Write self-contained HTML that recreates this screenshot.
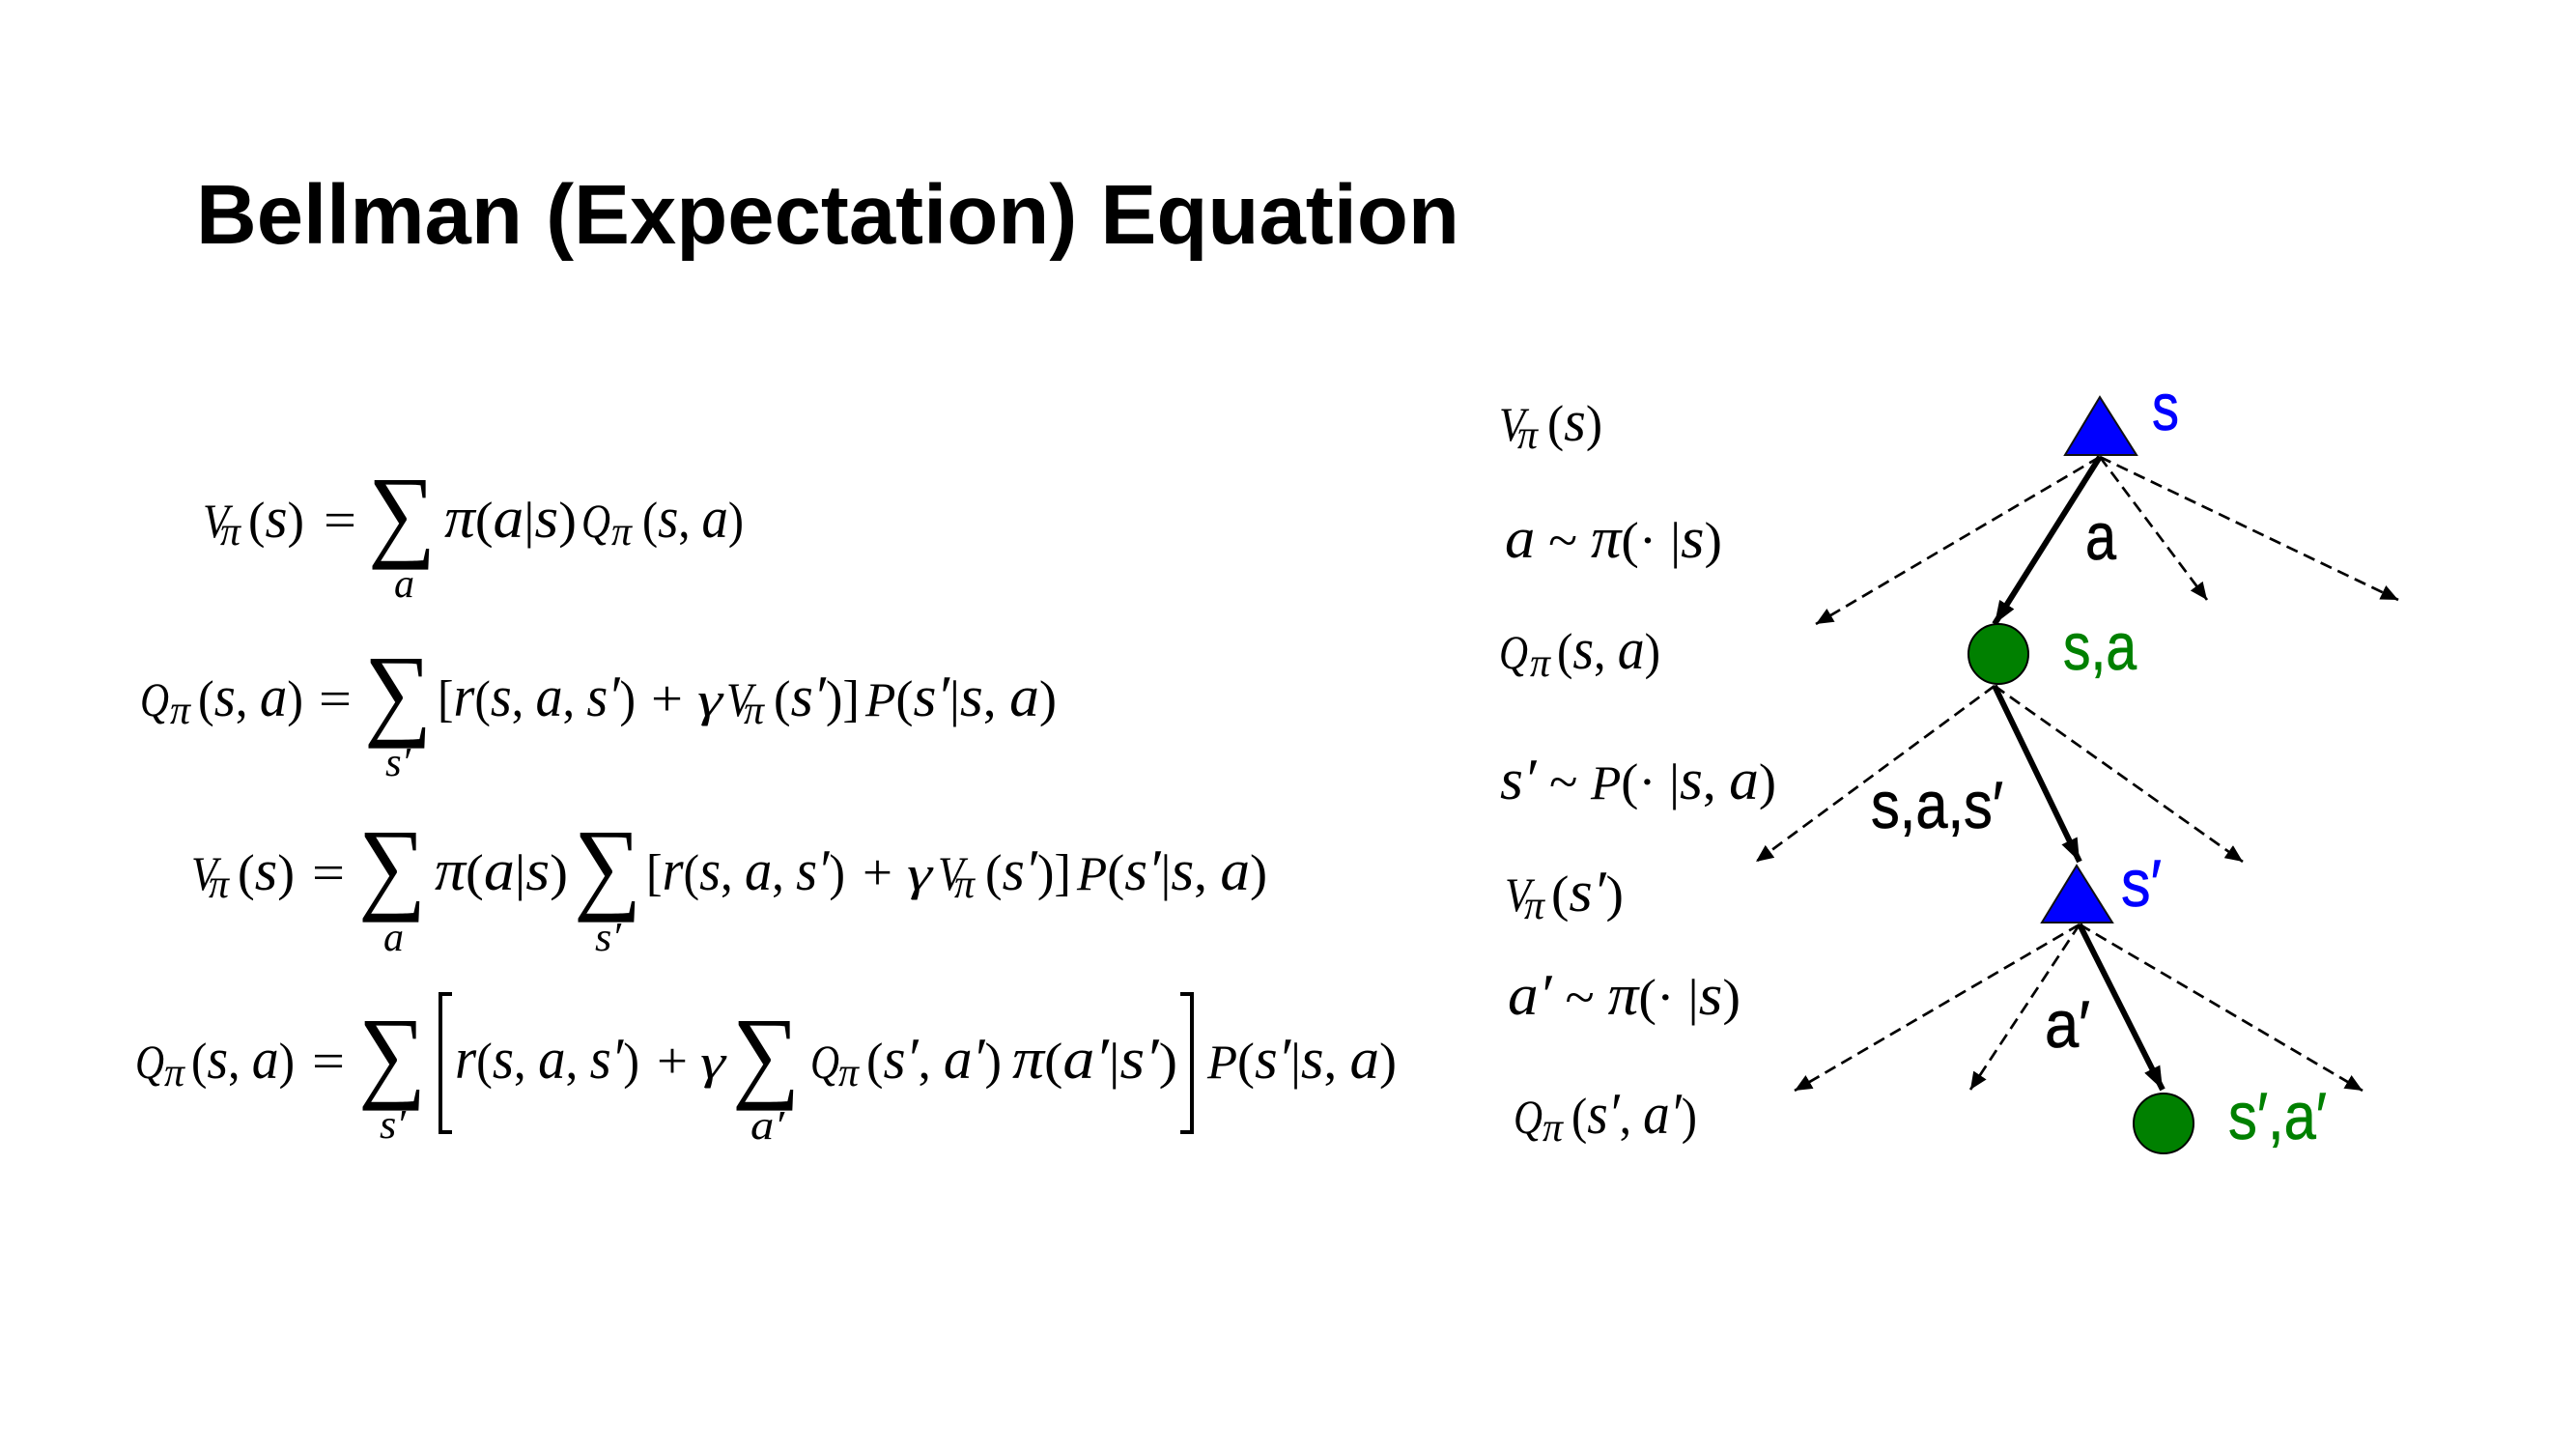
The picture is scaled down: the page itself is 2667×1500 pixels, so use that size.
<!DOCTYPE html>
<html lang="en">
<head>
<meta charset="utf-8">
<title>Bellman (Expectation) Equation</title>
<style>
html,body{margin:0;padding:0;background:#fff;width:2667px;height:1500px;overflow:hidden}
svg{display:block}
text{white-space:pre}
.t{font-family:"Liberation Sans",sans-serif;font-weight:bold;fill:#000}
.m{font-family:"Liberation Serif",serif;font-size:53px;fill:#000}
.m tspan{font-style:italic;font-size:60px}
.m tspan.c{font-size:50px}
.i{font-family:"Liberation Serif",serif;font-size:50px;font-style:italic;fill:#000}
.b{font-family:"Liberation Serif",serif;font-size:42px;font-style:italic;fill:#000}
.sg{font-family:"Liberation Serif",serif;font-size:107px;fill:#000}
.l{font-family:"Liberation Sans",sans-serif;font-size:69px;stroke-width:.7px}
</style>
</head>
<body>
<svg xmlns="http://www.w3.org/2000/svg" width="2667" height="1500" viewBox="0 0 2667 1500">
<defs>
<marker id="hs" markerUnits="userSpaceOnUse" markerWidth="26" markerHeight="20" refX="24" refY="10" orient="auto"><path d="M0 1L24 10L0 19Z" fill="#000"/></marker>
<marker id="hd" markerUnits="userSpaceOnUse" markerWidth="20" markerHeight="16" refX="18" refY="8" orient="auto"><path d="M0 0L18 8L0 16Z" fill="#000"/></marker>
</defs>
<rect width="2667" height="1500" fill="#fff"/>
<text class="t" x="203" y="252" font-size="87" textLength="1308" lengthAdjust="spacingAndGlyphs">Bellman (Expectation) Equation</text>

<g>
<text class="i" x="210" y="556" textLength="27" lengthAdjust="spacingAndGlyphs">V</text>
<text class="b" x="228" y="564" textLength="21" lengthAdjust="spacingAndGlyphs">π</text>
<text class="m" x="257" y="556" textLength="58" lengthAdjust="spacingAndGlyphs">(<tspan>s</tspan>)</text>
<text class="m" x="335" y="556" textLength="34" lengthAdjust="spacingAndGlyphs">=</text>
<text class="sg" x="381" y="567" textLength="70" lengthAdjust="spacingAndGlyphs">∑</text>
<text class="b" x="408" y="618" textLength="21" lengthAdjust="spacingAndGlyphs">a</text>
<text class="m" x="460" y="556" textLength="137" lengthAdjust="spacingAndGlyphs"><tspan>π</tspan>(<tspan>a</tspan>|<tspan>s</tspan>)</text>
<text class="i" x="602" y="556" textLength="30" lengthAdjust="spacingAndGlyphs">Q</text>
<text class="b" x="633" y="564" textLength="21" lengthAdjust="spacingAndGlyphs">π</text>
<text class="m" x="665" y="556" textLength="105" lengthAdjust="spacingAndGlyphs">(<tspan>s</tspan>, <tspan>a</tspan>)</text>
</g>

<g>
<text class="i" x="145" y="741" textLength="30" lengthAdjust="spacingAndGlyphs">Q</text>
<text class="b" x="176" y="749" textLength="21" lengthAdjust="spacingAndGlyphs">π</text>
<text class="m" x="205" y="741" textLength="109" lengthAdjust="spacingAndGlyphs">(<tspan>s</tspan>, <tspan>a</tspan>)</text>
<text class="m" x="330" y="741" textLength="34" lengthAdjust="spacingAndGlyphs">=</text>
<text class="sg" x="377" y="752" textLength="70" lengthAdjust="spacingAndGlyphs">∑</text>
<text class="b" x="399" y="803" textLength="26" lengthAdjust="spacingAndGlyphs">s′</text>
<text class="m" x="453" y="741" textLength="205" lengthAdjust="spacingAndGlyphs">[<tspan>r</tspan>(<tspan>s</tspan>, <tspan>a</tspan>, <tspan>s′</tspan>)</text>
<text class="m" x="674" y="741" textLength="33" lengthAdjust="spacingAndGlyphs">+</text>
<text class="i" x="722" y="741" textLength="26" lengthAdjust="spacingAndGlyphs">γ</text>
<text class="i" x="752" y="741" textLength="27" lengthAdjust="spacingAndGlyphs">V</text>
<text class="b" x="770" y="749" textLength="21" lengthAdjust="spacingAndGlyphs">π</text>
<text class="m" x="801" y="741" textLength="89" lengthAdjust="spacingAndGlyphs">(<tspan>s′</tspan>)]</text>
<text class="m" x="896" y="741" textLength="198" lengthAdjust="spacingAndGlyphs"><tspan class="c">P</tspan>(<tspan>s′</tspan>|<tspan>s</tspan>, <tspan>a</tspan>)</text>
</g>

<g>
<text class="i" x="198" y="921" textLength="27" lengthAdjust="spacingAndGlyphs">V</text>
<text class="b" x="216" y="929" textLength="21" lengthAdjust="spacingAndGlyphs">π</text>
<text class="m" x="246" y="921" textLength="59" lengthAdjust="spacingAndGlyphs">(<tspan>s</tspan>)</text>
<text class="m" x="323" y="921" textLength="34" lengthAdjust="spacingAndGlyphs">=</text>
<text class="sg" x="371" y="932" textLength="70" lengthAdjust="spacingAndGlyphs">∑</text>
<text class="b" x="397" y="984" textLength="21" lengthAdjust="spacingAndGlyphs">a</text>
<text class="m" x="450" y="921" textLength="138" lengthAdjust="spacingAndGlyphs"><tspan>π</tspan>(<tspan>a</tspan>|<tspan>s</tspan>)</text>
<text class="sg" x="594" y="932" textLength="70" lengthAdjust="spacingAndGlyphs">∑</text>
<text class="b" x="616" y="984" textLength="27" lengthAdjust="spacingAndGlyphs">s′</text>
<text class="m" x="669" y="921" textLength="206" lengthAdjust="spacingAndGlyphs">[<tspan>r</tspan>(<tspan>s</tspan>, <tspan>a</tspan>, <tspan>s′</tspan>)</text>
<text class="m" x="893" y="921" textLength="31" lengthAdjust="spacingAndGlyphs">+</text>
<text class="i" x="939" y="921" textLength="26" lengthAdjust="spacingAndGlyphs">γ</text>
<text class="i" x="971" y="921" textLength="27" lengthAdjust="spacingAndGlyphs">V</text>
<text class="b" x="988" y="929" textLength="21" lengthAdjust="spacingAndGlyphs">π</text>
<text class="m" x="1020" y="921" textLength="89" lengthAdjust="spacingAndGlyphs">(<tspan>s′</tspan>)]</text>
<text class="m" x="1115" y="921" textLength="197" lengthAdjust="spacingAndGlyphs"><tspan class="c">P</tspan>(<tspan>s′</tspan>|<tspan>s</tspan>, <tspan>a</tspan>)</text>
</g>

<g>
<text class="i" x="140" y="1116" textLength="30" lengthAdjust="spacingAndGlyphs">Q</text>
<text class="b" x="170" y="1124" textLength="21" lengthAdjust="spacingAndGlyphs">π</text>
<text class="m" x="198" y="1116" textLength="107" lengthAdjust="spacingAndGlyphs">(<tspan>s</tspan>, <tspan>a</tspan>)</text>
<text class="m" x="323" y="1116" textLength="34" lengthAdjust="spacingAndGlyphs">=</text>
<text class="sg" x="371" y="1127" textLength="70" lengthAdjust="spacingAndGlyphs">∑</text>
<text class="b" x="393" y="1178" textLength="27" lengthAdjust="spacingAndGlyphs">s′</text>
<path d="M468 1029H456V1172H468" fill="none" stroke="#000" stroke-width="4"/>
<text class="m" x="471" y="1116" textLength="191" lengthAdjust="spacingAndGlyphs"><tspan>r</tspan>(<tspan>s</tspan>, <tspan>a</tspan>, <tspan>s′</tspan>)</text>
<text class="m" x="680" y="1116" textLength="32" lengthAdjust="spacingAndGlyphs">+</text>
<text class="i" x="725" y="1116" textLength="26" lengthAdjust="spacingAndGlyphs">γ</text>
<text class="sg" x="758" y="1127" textLength="70" lengthAdjust="spacingAndGlyphs">∑</text>
<text class="b" x="777" y="1179" textLength="35" lengthAdjust="spacingAndGlyphs">a′</text>
<text class="i" x="839" y="1116" textLength="30" lengthAdjust="spacingAndGlyphs">Q</text>
<text class="b" x="868" y="1124" textLength="21" lengthAdjust="spacingAndGlyphs">π</text>
<text class="m" x="897" y="1116" textLength="140" lengthAdjust="spacingAndGlyphs">(<tspan>s′</tspan>, <tspan>a′</tspan>)</text>
<text class="m" x="1048" y="1116" textLength="171" lengthAdjust="spacingAndGlyphs"><tspan>π</tspan>(<tspan>a′</tspan>|<tspan>s′</tspan>)</text>
<path d="M1222 1029H1234V1172H1222" fill="none" stroke="#000" stroke-width="4"/>
<text class="m" x="1250" y="1116" textLength="196" lengthAdjust="spacingAndGlyphs"><tspan class="c">P</tspan>(<tspan>s′</tspan>|<tspan>s</tspan>, <tspan>a</tspan>)</text>
</g>

<g>
<text class="i" x="1552" y="456" textLength="27" lengthAdjust="spacingAndGlyphs">V</text>
<text class="b" x="1571" y="464" textLength="21" lengthAdjust="spacingAndGlyphs">π</text>
<text class="m" x="1602" y="456" textLength="57" lengthAdjust="spacingAndGlyphs">(<tspan>s</tspan>)</text>
<text class="m" x="1558" y="577" textLength="225" lengthAdjust="spacingAndGlyphs"><tspan>a</tspan> ~ <tspan>π</tspan>(· |<tspan>s</tspan>)</text>
<text class="i" x="1552" y="692" textLength="30" lengthAdjust="spacingAndGlyphs">Q</text>
<text class="b" x="1584" y="700" textLength="21" lengthAdjust="spacingAndGlyphs">π</text>
<text class="m" x="1612" y="692" textLength="107" lengthAdjust="spacingAndGlyphs">(<tspan>s</tspan>, <tspan>a</tspan>)</text>
<text class="m" x="1553" y="827" textLength="286" lengthAdjust="spacingAndGlyphs"><tspan>s′</tspan> ~ <tspan class="c">P</tspan>(· |<tspan>s</tspan>, <tspan>a</tspan>)</text>
<text class="i" x="1558" y="943" textLength="27" lengthAdjust="spacingAndGlyphs">V</text>
<text class="b" x="1578" y="951" textLength="21" lengthAdjust="spacingAndGlyphs">π</text>
<text class="m" x="1606" y="943" textLength="75" lengthAdjust="spacingAndGlyphs">(<tspan>s′</tspan>)</text>
<text class="m" x="1561" y="1050" textLength="241" lengthAdjust="spacingAndGlyphs"><tspan>a′</tspan> ~ <tspan>π</tspan>(· |<tspan>s</tspan>)</text>
<text class="i" x="1567" y="1173" textLength="30" lengthAdjust="spacingAndGlyphs">Q</text>
<text class="b" x="1597" y="1181" textLength="21" lengthAdjust="spacingAndGlyphs">π</text>
<text class="m" x="1627" y="1173" textLength="130" lengthAdjust="spacingAndGlyphs">(<tspan>s′</tspan>, <tspan>a′</tspan>)</text>
</g>

<g fill="none" stroke="#000" stroke-width="2.7" stroke-dasharray="12.5 7">
<line x1="2174" y1="473" x2="1880" y2="646" marker-end="url(#hd)"/>
<line x1="2174" y1="473" x2="2285" y2="621" marker-end="url(#hd)"/>
<line x1="2174" y1="473" x2="2483" y2="621" marker-end="url(#hd)"/>
<line x1="2065" y1="710" x2="1818" y2="892" marker-end="url(#hd)"/>
<line x1="2065" y1="710" x2="2322" y2="892" marker-end="url(#hd)"/>
<line x1="2153" y1="957" x2="1858" y2="1129" marker-end="url(#hd)"/>
<line x1="2153" y1="957" x2="2040" y2="1128" marker-end="url(#hd)"/>
<line x1="2153" y1="957" x2="2446" y2="1129" marker-end="url(#hd)"/>
</g>

<g fill="none" stroke="#000" stroke-width="6">
<line x1="2174" y1="473" x2="2065" y2="646" marker-end="url(#hs)"/>
<line x1="2065" y1="710" x2="2153" y2="892" marker-end="url(#hs)"/>
<line x1="2153" y1="957" x2="2239" y2="1128" marker-end="url(#hs)"/>
</g>

<polygon points="2174,411 2138,471 2212,471" fill="#0000ff" stroke="#111" stroke-width="2"/>
<ellipse cx="2069" cy="677" rx="31" ry="31" fill="#008000" stroke="#000" stroke-width="2"/>
<polygon points="2150,896 2114,955 2187,955" fill="#0000ff" stroke="#111" stroke-width="2"/>
<ellipse cx="2240" cy="1163" rx="31" ry="31" fill="#008000" stroke="#000" stroke-width="2"/>

<g>
<text class="l" x="2228" y="445" fill="#0000ff" stroke="#0000ff" textLength="28" lengthAdjust="spacingAndGlyphs">s</text>
<text class="l" x="2159" y="579" fill="#000" stroke="#000" textLength="32" lengthAdjust="spacingAndGlyphs">a</text>
<text class="l" x="2136" y="693" fill="#008000" stroke="#008000" textLength="76" lengthAdjust="spacingAndGlyphs">s,a</text>
<text class="l" x="1937" y="857" fill="#000" stroke="#000" textLength="137" lengthAdjust="spacingAndGlyphs">s,a,s′</text>
<text class="l" x="2196" y="938" fill="#0000ff" stroke="#0000ff" textLength="42" lengthAdjust="spacingAndGlyphs">s′</text>
<text class="l" x="2117" y="1084" fill="#000" stroke="#000" textLength="47" lengthAdjust="spacingAndGlyphs">a′</text>
<text class="l" x="2307" y="1179" fill="#008000" stroke="#008000" textLength="102" lengthAdjust="spacingAndGlyphs">s′,a′</text>
</g>
</svg>
</body>
</html>
